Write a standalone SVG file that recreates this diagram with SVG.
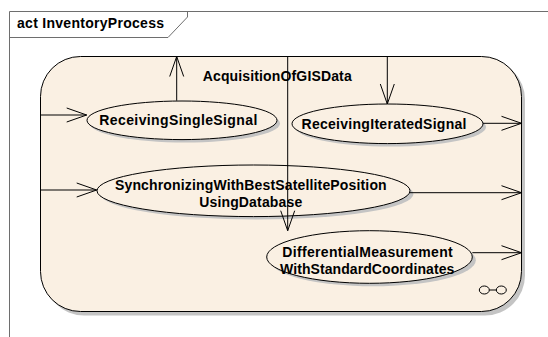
<svg xmlns="http://www.w3.org/2000/svg" width="548" height="337" viewBox="0 0 548 337">
<defs>
<style>
.t{font-family:"Liberation Sans",Arial,sans-serif;font-weight:bold;font-size:14px;fill:#000}
.node{fill:#FAF0E3;stroke:#000;stroke-width:1}
.sh{fill:#C4C4C4;stroke:none}
.edge{fill:none;stroke:#000;stroke-width:1}
.frame{fill:none;stroke:#6E6E6E;stroke-width:1}
</style>
<marker id="arr" markerUnits="userSpaceOnUse" markerWidth="24" markerHeight="18" viewBox="-1 -1 24 18" refX="20" refY="7" orient="auto">
<path d="M0,0 L20,7 L0,14" fill="none" stroke="#000" stroke-width="1"/>
</marker>
</defs>
<rect width="548" height="337" fill="#fff"/>
<g id="frame">
<path class="frame" d="M9.5,337 L9.5,11.5 L548,11.5"/>
<path class="frame" d="M9.5,37.5 L168,37.5 L187.5,17 L187.5,11.5"/>
<text class="t" x="17" y="28.3" textLength="147" lengthAdjust="spacing">act InventoryProcess</text>
</g>
<g id="AcquisitionOfGISData">
<rect class="sh" x="44" y="59.5" width="481" height="256" rx="40" ry="40"/>
<rect class="node" x="40.5" y="56.5" width="481" height="255" rx="40" ry="40"/>
<text class="t" x="202.7" y="80.7" textLength="149" lengthAdjust="spacing">AcquisitionOfGISData</text>
<g fill="none" stroke="#000" stroke-width="1">
<ellipse cx="484.3" cy="290" rx="5" ry="4"/>
<line x1="489.3" y1="290" x2="496.3" y2="290"/>
<ellipse cx="501.3" cy="290" rx="5" ry="4"/>
</g>
</g>
<g id="ReceivingSingleSignal">
<ellipse class="sh" cx="185" cy="123.5" rx="95" ry="19"/>
<ellipse class="node" cx="182" cy="120.3" rx="95" ry="19.3"/>
<text class="t" x="178.3" y="125.3" text-anchor="middle" textLength="158" lengthAdjust="spacing">ReceivingSingleSignal</text>
</g>
<g id="ReceivingIteratedSignal">
<ellipse class="sh" cx="390.5" cy="127" rx="95.5" ry="19.5"/>
<ellipse class="node" cx="387.5" cy="123.8" rx="95.5" ry="19.8"/>
<text class="t" x="384" y="129" text-anchor="middle" textLength="165" lengthAdjust="spacing">ReceivingIteratedSignal</text>
</g>
<g id="SynchronizingWithBestSatellitePositionUsingDatabase">
<ellipse class="sh" cx="257" cy="194" rx="156.5" ry="25.5"/>
<ellipse class="node" cx="253.5" cy="190.8" rx="156.5" ry="25.8"/>
<text class="t" x="250.8" y="189.5" text-anchor="middle" textLength="271.7" lengthAdjust="spacing">SynchronizingWithBestSatellitePosition</text>
<text class="t" x="250.7" y="206.7" text-anchor="middle" textLength="103" lengthAdjust="spacing">UsingDatabase</text>
</g>
<g id="DifferentialMeasurementWithStandardCoordinates">
<ellipse class="sh" cx="373" cy="260.3" rx="102.8" ry="26"/>
<ellipse class="node" cx="369.5" cy="257" rx="102.8" ry="26.3"/>
<text class="t" x="367.5" y="256.8" text-anchor="middle" textLength="170.4" lengthAdjust="spacing">DifferentialMeasurement</text>
<text class="t" x="367.2" y="273.5" text-anchor="middle" textLength="174.3" lengthAdjust="spacing">WithStandardCoordinates</text>
</g>
<g id="connectors">
<line class="edge" x1="40.7" y1="115" x2="86.7" y2="115" marker-end="url(#arr)"/>
<line class="edge" x1="40.7" y1="190" x2="96.7" y2="190" marker-end="url(#arr)"/>
<line class="edge" x1="176.7" y1="100.7" x2="176.7" y2="56.5" marker-end="url(#arr)"/>
<line class="edge" x1="387.3" y1="56.5" x2="387.3" y2="104" marker-end="url(#arr)"/>
<line class="edge" x1="287.7" y1="56.5" x2="287.7" y2="230.7" marker-end="url(#arr)"/>
<line class="edge" x1="483" y1="123.3" x2="521.5" y2="123.3" marker-end="url(#arr)"/>
<line class="edge" x1="410" y1="192.7" x2="521.5" y2="192.7" marker-end="url(#arr)"/>
<line class="edge" x1="472.3" y1="252.7" x2="521.5" y2="252.7" marker-end="url(#arr)"/>
</g>
</svg>
